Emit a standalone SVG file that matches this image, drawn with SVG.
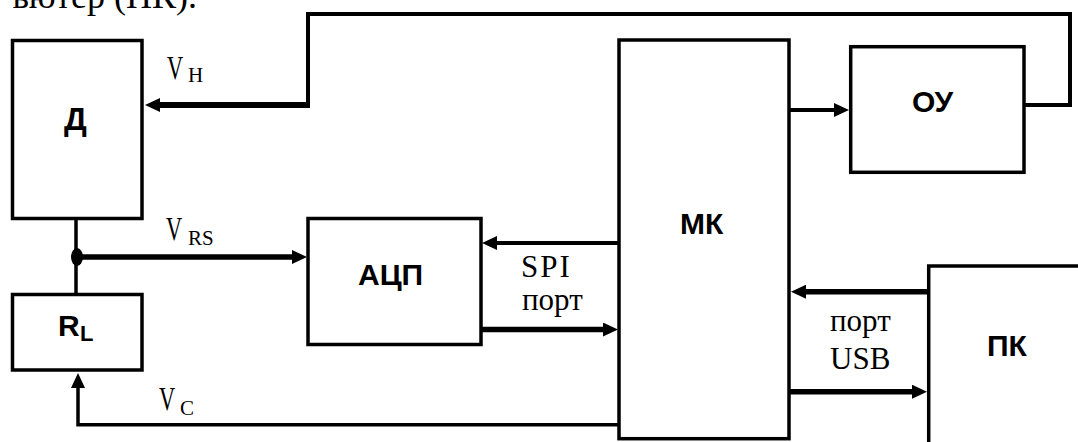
<svg xmlns="http://www.w3.org/2000/svg" width="1078" height="442" viewBox="0 0 1078 442">
<defs>
<style>
.box{fill:#fff;stroke:#000;stroke-width:3.5}
.w{fill:none;stroke:#000;stroke-linejoin:miter}
.t{font-family:"Liberation Sans",Arial,sans-serif;font-size:30px;font-weight:bold;fill:#000}
.m{font-family:"Liberation Serif","Times New Roman",serif;font-size:31px;fill:#000}
.s{font-family:"Liberation Serif","Times New Roman",serif;font-size:21px;fill:#000}
.doc{font-family:"Liberation Serif","Times New Roman",serif;font-size:36px;fill:#000}
</style>
<marker id="ah" markerUnits="userSpaceOnUse" markerWidth="16" markerHeight="14" refX="2" refY="7" orient="auto"><path d="M0,0 L15,7 L0,14 Z" fill="#000"/></marker>
</defs>
<rect width="1078" height="442" fill="#fff"/>
<text class="doc" x="197" y="8" text-anchor="end">ьютер (ПК).</text>

<g id="node-D"><rect class="box" x="12.5" y="40.5" width="129.5" height="178"/><text class="t" style="font-size:32px" x="64" y="130">Д</text></g>
<g id="node-RL"><rect class="box" x="12.5" y="294.5" width="129.5" height="75.5"/><text class="t" x="58" y="336">R</text><text class="t" style="font-size:22px" x="80" y="341">L</text></g>
<g id="node-ADC"><rect class="box" x="308" y="218.5" width="173" height="126"/><text class="t" x="358" y="285">АЦП</text></g>
<g id="node-MK"><rect class="box" x="619" y="40" width="170" height="398.7"/><text class="t" x="680" y="234">МК</text></g>
<g id="node-OU"><rect class="box" x="850.7" y="46.7" width="173.3" height="125.6"/><text class="t" x="912" y="112">ОУ</text></g>
<g id="node-PK"><rect class="box" x="928.7" y="266" width="200" height="200"/><text class="t" x="987" y="356">ПК</text></g>

<g id="connectors">
<path class="w" stroke-width="4" d="M1025,105 H1070 V14 H308 V105"/>
<path class="w" stroke-width="6" d="M310,105 H158" marker-end="url(#ah)"/>
<path class="w" stroke-width="3.5" d="M76,218 V294"/>
<ellipse cx="77" cy="257" rx="6" ry="9" fill="#000"/>
<path class="w" stroke-width="5.5" d="M80,257 H294" marker-end="url(#ah)"/>
<path class="w" stroke-width="4" d="M619,243 H495" marker-end="url(#ah)"/>
<path class="w" stroke-width="5.5" d="M481,329.5 H605" marker-end="url(#ah)"/>
<path class="w" stroke-width="3.5" d="M619,424.7 H78 V386" marker-end="url(#ah)"/>
<path class="w" stroke-width="4" d="M789,110 H836" marker-end="url(#ah)"/>
<path class="w" stroke-width="5.5" d="M928,291.7 H804" marker-end="url(#ah)"/>
<path class="w" stroke-width="5.5" d="M789,391.7 H914" marker-end="url(#ah)"/>
</g>

<g id="labels">
<text class="m" transform="translate(167,79) scale(0.72,1.1)">V</text><text class="s" x="188" y="82">H</text>
<text class="m" transform="translate(166,240) scale(0.72,1.1)">V</text><text class="s" x="188" y="245">RS</text>
<text class="m" transform="translate(159,410) scale(0.72,1.1)">V</text><text class="s" x="180" y="415">C</text>
<text class="m" x="521" y="277" letter-spacing="2">SPI</text>
<text class="m" x="522" y="310">порт</text>
<text class="m" x="830" y="331">порт</text>
<text class="m" x="830" y="369">USB</text>
</g>
</svg>
